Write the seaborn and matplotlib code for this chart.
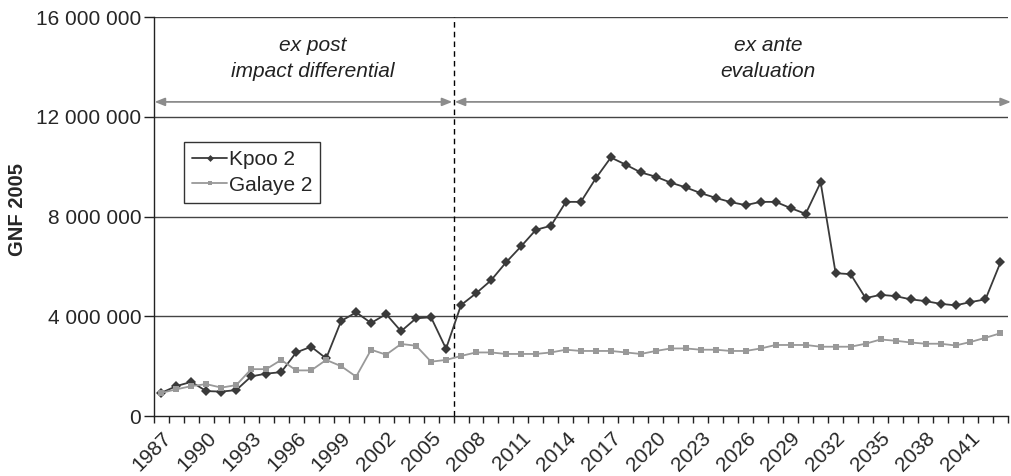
import numpy as np
import pandas as pd
import matplotlib
matplotlib.use("Agg")
import matplotlib.pyplot as plt
import seaborn as sns

years = list(range(1987, 2044))
kpoo = [0.93, 1.20, 1.37, 1.00, 0.98, 1.04, 1.59, 1.70, 1.76, 2.55,
        2.78, 2.31, 3.81, 4.16, 3.73, 4.09, 3.40, 3.92, 3.96, 2.70,
        4.45, 4.92, 5.44, 6.16, 6.80, 7.47, 7.63, 8.59, 8.59, 9.54,
        10.37, 10.08, 9.77, 9.60, 9.36, 9.17, 8.94, 8.75, 8.58, 8.46,
        8.59, 8.59, 8.34, 8.11, 9.37, 5.73, 5.69, 4.73, 4.86, 4.81,
        4.68, 4.61, 4.50, 4.44, 4.57, 4.68, 6.16]
galaye = [0.93, 1.07, 1.20, 1.28, 1.14, 1.24, 1.88, 1.88, 2.25, 1.83,
          1.83, 2.25, 2.00, 1.58, 2.66, 2.46, 2.89, 2.82, 2.18, 2.25,
          2.41, 2.55, 2.55, 2.49, 2.49, 2.49, 2.55, 2.66, 2.61, 2.61,
          2.61, 2.55, 2.49, 2.61, 2.71, 2.71, 2.66, 2.66, 2.61, 2.61,
          2.71, 2.85, 2.85, 2.85, 2.78, 2.78, 2.78, 2.90, 3.07, 3.02,
          2.95, 2.90, 2.90, 2.83, 2.97, 3.14, 3.32]
series_names = ["Kpoo 2", "Galaye 2"]
y_ticks = [0, 4_000_000, 8_000_000, 12_000_000, 16_000_000]
split_after = 2006
arrow_level = 12_600_000
left_text = "ex post\nimpact differential"
right_text = "ex ante\nevaluation"
y_label = "GNF 2005"

sns.set_theme(style="white")
plt.rcParams["font.family"] = ["Liberation Sans", "DejaVu Sans"]

idx = np.arange(len(years))
df = pd.DataFrame({
    "idx": np.concatenate([idx, idx]),
    "value": np.array(kpoo + galaye) * 1e6,
    "series": [series_names[0]] * len(years) + [series_names[1]] * len(years),
})

fig = plt.figure(figsize=(10.12, 4.76), dpi=100)
ax = fig.add_axes([0.152, 0.126, 0.844, 0.838])

for ypos in y_ticks[1:]:
    ax.axhline(ypos, color="#444444", lw=1.0, zorder=0)

sns.lineplot(data=df[df.series == series_names[0]], x="idx", y="value", ax=ax,
             color="#3a3a3a", marker="D", markersize=5, markeredgewidth=0,
             lw=1.3, label=series_names[0])
sns.lineplot(data=df[df.series == series_names[1]], x="idx", y="value", ax=ax,
             color="#999999", marker="s", markersize=5, markeredgewidth=0,
             lw=1.3, label=series_names[1])

split = years.index(split_after) + 0.5
ax.axvline(split, color="black", lw=1.0, ls=(0, (4, 3)), zorder=1)

n = len(years)
ax.set_xlim(-0.5, n - 0.5)
ax.set_ylim(0, 16_000_000)

arrow_kw = dict(arrowstyle="<|-|>,head_length=0.5,head_width=0.2", color="#8c8c8c", lw=1.3,
                shrinkA=0, shrinkB=0)
ax.annotate("", xy=(-0.45, arrow_level), xytext=(split - 0.08, arrow_level), arrowprops=arrow_kw,
            annotation_clip=False)
ax.annotate("", xy=(split + 0.08, arrow_level), xytext=(n - 0.3, arrow_level), arrowprops=arrow_kw,
            annotation_clip=False)

ax.text(10.1, 14_330_000, left_text, ha="center", va="center",
        fontsize=15, style="italic", linespacing=1.45, color="#222222")
ax.text(40.5, 14_330_000, right_text, ha="center", va="center",
        fontsize=15, style="italic", linespacing=1.45, color="#222222")

ax.set_yticks(y_ticks)
ax.set_yticklabels([f"{v:,.0f}".replace(",", " ") for v in y_ticks], fontsize=15)
major = idx[::3]
ax.set_xticks(major)
ax.set_xticklabels([str(years[i]) for i in major], rotation=45, ha="right",
                   rotation_mode="anchor", fontsize=15)
ax.set_xticks(np.arange(-0.5, n, 1.0), minor=True)
ax.tick_params(axis="x", which="major", length=0, pad=9)
ax.tick_params(axis="x", which="minor", length=5, width=1, color="#222222", direction="out", bottom=True)
ax.tick_params(axis="y", length=7, width=1, color="#222222", direction="out", left=True, pad=2)

for s in ["top", "right"]:
    ax.spines[s].set_visible(False)
for s in ["left", "bottom"]:
    ax.spines[s].set_color("#222222")
    ax.spines[s].set_linewidth(1.0)

ax.set_xlabel("")
ax.set_ylabel("")
fig.text(0.017, 0.559, y_label, rotation=90, ha="center", va="center",
         fontsize=14.5, fontweight="bold")

leg = ax.legend(loc="upper left", bbox_to_anchor=(0.035, 0.687), fontsize=15,
                frameon=True, fancybox=False, borderaxespad=0, handlelength=1.7,
                handletextpad=0.05, borderpad=0.4, labelspacing=0.3, markerscale=0.7)
leg.get_frame().set_edgecolor("black")
leg.get_frame().set_linewidth(1.0)

fig.savefig("out.png", dpi=100)
